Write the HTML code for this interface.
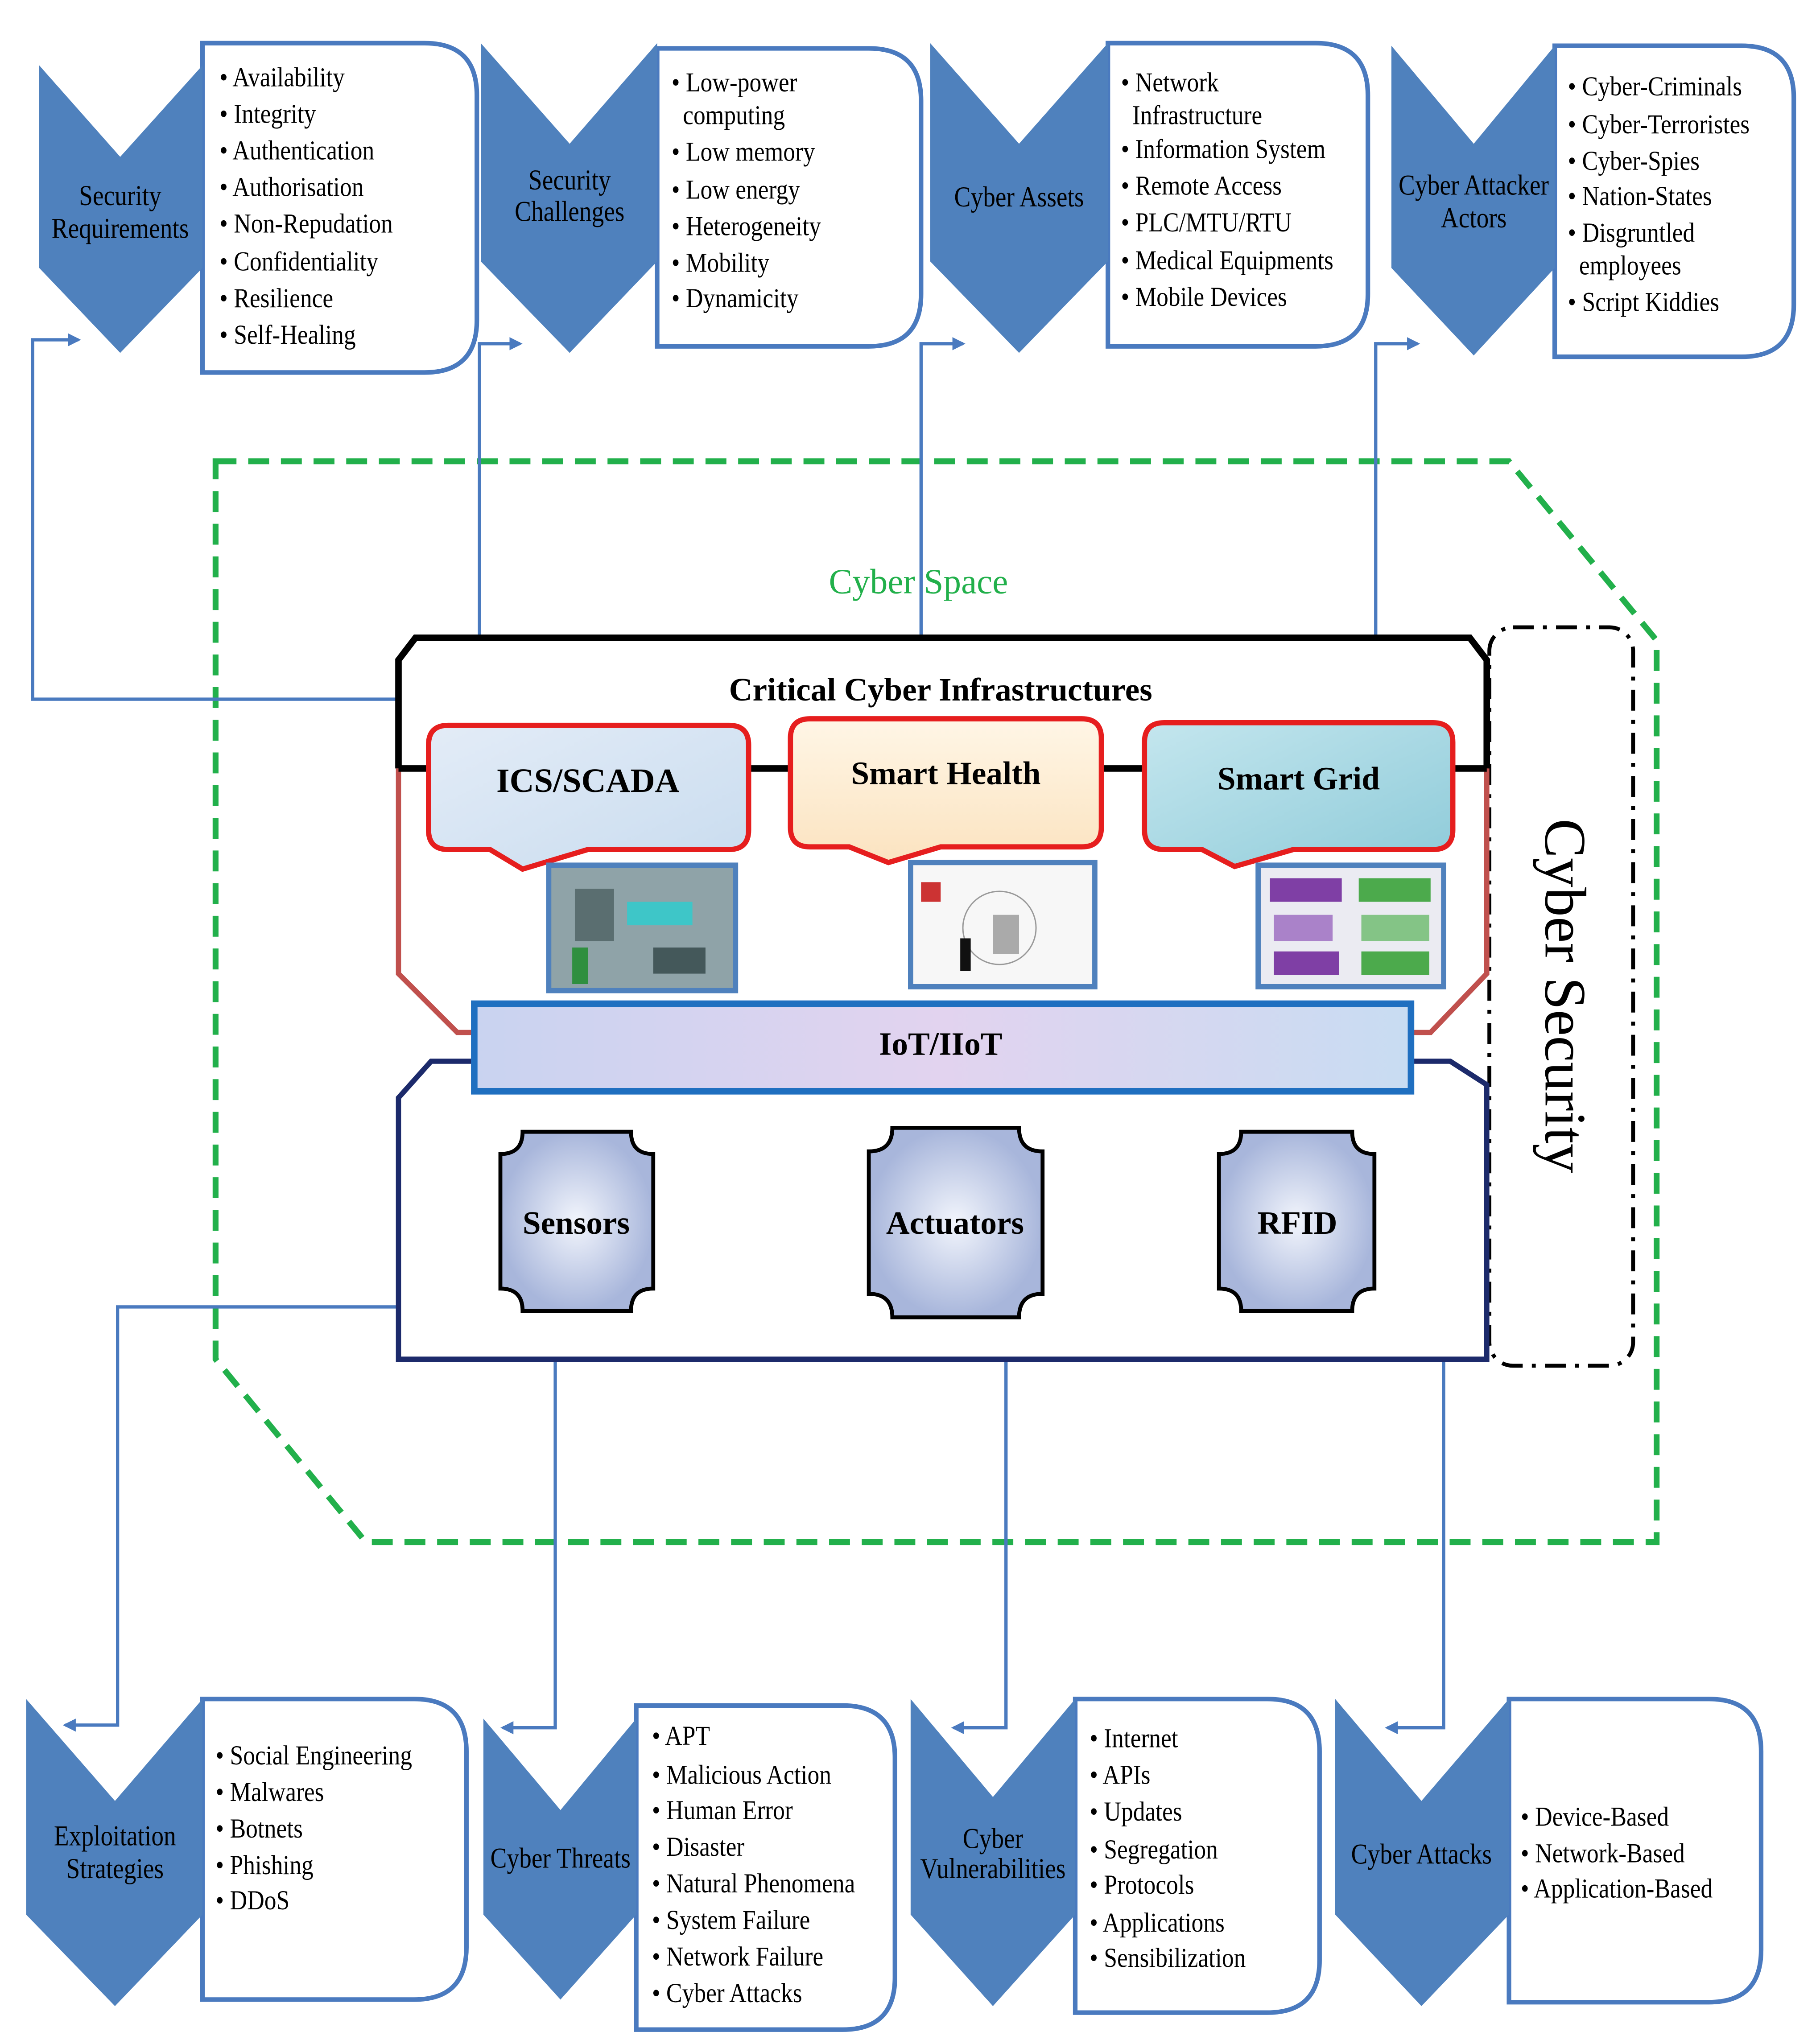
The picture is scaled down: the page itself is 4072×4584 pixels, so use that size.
<!DOCTYPE html>
<html><head><meta charset="utf-8"><style>
html,body{margin:0;padding:0;background:#fff;}
svg{display:block}
text{font-family:"Liberation Serif",serif;}
.b{font-size:21px;fill:#000}
.c{font-size:22px;fill:#000;text-anchor:middle}
.box{fill:#fff;stroke:#4a7abf;stroke-width:3.5}
.chev{fill:#4f81bd}
.con{fill:none;stroke:#4a7abf;stroke-width:2.5}
</style></head><body>
<svg width="4072" height="4584" viewBox="0 0 1390 1564" preserveAspectRatio="none" xmlns="http://www.w3.org/2000/svg">
<defs>
<marker id="ar" markerWidth="10" markerHeight="10" refX="8" refY="5" orient="auto" markerUnits="userSpaceOnUse"><path d="M0,0 L10,5 L0,10 Z" fill="#4a7abf"/></marker>
<linearGradient id="g1" x1="0" y1="0" x2="1" y2="1"><stop offset="0" stop-color="#e3ecf7"/><stop offset="1" stop-color="#c9dcef"/></linearGradient>
<linearGradient id="g2" x1="0" y1="0" x2="0" y2="1"><stop offset="0" stop-color="#fff6e6"/><stop offset="1" stop-color="#fbe3c0"/></linearGradient>
<linearGradient id="g3" x1="0" y1="0" x2="1" y2="1"><stop offset="0" stop-color="#c4e6ee"/><stop offset="1" stop-color="#8ecbd9"/></linearGradient>
<linearGradient id="g4" x1="0" y1="0" x2="1" y2="0"><stop offset="0" stop-color="#c9d3f0"/><stop offset="0.5" stop-color="#e2d3ef"/><stop offset="1" stop-color="#c8dcf2"/></linearGradient>
<radialGradient id="g5"><stop offset="0" stop-color="#f2f5fc"/><stop offset="1" stop-color="#a8b6db"/></radialGradient>
</defs>

<!-- Top row -->
<path class="box" d="M155,33 H325 Q365,33 365,73 V245 Q365,285 325,285 H155 Z"/>
<polygon class="chev" points="30,50 92,120 155,50 155,205 92,270 30,205"/>
<g transform="translate(92,0) scale(0.86,1) translate(-92,0)"><text class="c" x="92" y="157">Security</text><text class="c" x="92" y="182">Requirements</text></g>
<g class="b" transform="translate(168,0) scale(0.87,1) translate(-168,0)"><text x="168" y="66">• Availability</text><text x="168" y="94">• Integrity</text><text x="168" y="122">• Authentication</text><text x="168" y="150">• Authorisation</text><text x="168" y="178">• Non-Repudation</text><text x="168" y="207">• Confidentiality</text><text x="168" y="235">• Resilience</text><text x="168" y="263">• Self-Healing</text></g>

<path class="box" d="M503,37 H665 Q705,37 705,77 V225 Q705,265 665,265 H503 Z"/>
<polygon class="chev" points="368,33 436,110 503,33 503,200 436,270 368,200"/>
<g transform="translate(436,0) scale(0.86,1) translate(-436,0)"><text class="c" x="436" y="145">Security</text><text class="c" x="436" y="169">Challenges</text></g>
<g class="b" transform="translate(514,0) scale(0.87,1) translate(-514,0)"><text x="514" y="70">• Low-power</text><text x="524" y="95">computing</text><text x="514" y="123">• Low memory</text><text x="514" y="152">• Low energy</text><text x="514" y="180">• Heterogeneity</text><text x="514" y="208">• Mobility</text><text x="514" y="235">• Dynamicity</text></g>

<path class="box" d="M848,33 H1007 Q1047,33 1047,73 V225 Q1047,265 1007,265 H848 Z"/>
<polygon class="chev" points="712,33 780,110 848,33 848,200 780,270 712,200"/>
<g transform="translate(780,0) scale(0.86,1) translate(-780,0)"><text class="c" x="780" y="158">Cyber Assets</text></g>
<g class="b" transform="translate(858,0) scale(0.87,1) translate(-858,0)"><text x="858" y="70">• Network</text><text x="868" y="95">Infrastructure</text><text x="858" y="121">• Information System</text><text x="858" y="149">• Remote Access</text><text x="858" y="177">• PLC/MTU/RTU</text><text x="858" y="206">• Medical Equipments</text><text x="858" y="234">• Mobile Devices</text></g>

<path class="box" d="M1190,35 H1333 Q1373,35 1373,75 V233 Q1373,273 1333,273 H1190 Z"/>
<polygon class="chev" points="1065,35 1128,110 1190,35 1190,205 1128,272 1065,205"/>
<g transform="translate(1128,0) scale(0.86,1) translate(-1128,0)"><text class="c" x="1128" y="149">Cyber Attacker</text><text class="c" x="1128" y="174">Actors</text></g>
<g class="b" transform="translate(1200,0) scale(0.87,1) translate(-1200,0)"><text x="1200" y="73">• Cyber-Criminals</text><text x="1200" y="102">• Cyber-Terroristes</text><text x="1200" y="130">• Cyber-Spies</text><text x="1200" y="157">• Nation-States</text><text x="1200" y="185">• Disgruntled</text><text x="1210" y="210">employees</text><text x="1200" y="238">• Script Kiddies</text></g>

<!-- Cyber space -->
<polygon points="165,353 1155,353 1268,490 1268,1180 280,1180 165,1040" fill="none" stroke="#22b04b" stroke-width="4.5" stroke-dasharray="16,9"/>
<text x="703" y="454" text-anchor="middle" style="font-size:27px;fill:#22b04b">Cyber Space</text>

<!-- Cyber Security -->
<rect x="1140" y="480" width="110" height="565" rx="18" fill="none" stroke="#000" stroke-width="3" stroke-dasharray="16,7,3,7"/>
<text transform="translate(1183,762) rotate(90)" text-anchor="middle" style="font-size:45px;fill:#000">Cyber Security</text>

<!-- connectors -->
<polyline class="con" points="305,535 25,535 25,260 60,260" marker-end="url(#ar)"/>
<polyline class="con" points="367,488 367,263 398,263" marker-end="url(#ar)"/>
<polyline class="con" points="705,488 705,263 737,263" marker-end="url(#ar)"/>
<polyline class="con" points="1053,488 1053,263 1085,263" marker-end="url(#ar)"/>
<polyline class="con" points="305,1000 90,1000 90,1320 50,1320" marker-end="url(#ar)"/>
<polyline class="con" points="425,1040 425,1322 385,1322" marker-end="url(#ar)"/>
<polyline class="con" points="770,1040 770,1322 730,1322" marker-end="url(#ar)"/>
<polyline class="con" points="1105,1040 1105,1322 1062,1322" marker-end="url(#ar)"/>

<!-- CCI -->
<polyline points="305,588 305,505 318,488 1125,488 1138,505 1138,588" fill="none" stroke="#000" stroke-width="5"/>
<polyline points="305,588 305,745 350,790 365,790" fill="none" stroke="#c0504d" stroke-width="4"/>
<polyline points="1138,588 1138,745 1095,790 1080,790" fill="none" stroke="#c0504d" stroke-width="4"/>
<line x1="573" y1="588" x2="605" y2="588" stroke="#000" stroke-width="5"/>
<line x1="843" y1="588" x2="876" y2="588" stroke="#000" stroke-width="5"/>
<line x1="305" y1="588" x2="328" y2="588" stroke="#000" stroke-width="5"/>
<line x1="1112" y1="588" x2="1138" y2="588" stroke="#000" stroke-width="5"/>
<text x="720" y="536" text-anchor="middle" style="font-size:25px;font-weight:bold">Critical Cyber Infrastructures</text>

<path d="M343,555 H558 Q573,555 573,570 V635 Q573,650 558,650 H450 L400,665 L375,650 H343 Q328,650 328,635 V570 Q328,555 343,555 Z" fill="url(#g1)" stroke="#e61e1e" stroke-width="4"/>
<text x="450" y="606" text-anchor="middle" style="font-size:26px;font-weight:bold">ICS/SCADA</text>
<path d="M620,550 H828 Q843,550 843,565 V633 Q843,648 828,648 H720 L680,660 L650,648 H620 Q605,648 605,633 V565 Q605,550 620,550 Z" fill="url(#g2)" stroke="#e61e1e" stroke-width="4"/>
<text x="724" y="600" text-anchor="middle" style="font-size:25px;font-weight:bold">Smart Health</text>
<path d="M891,553 H1097 Q1112,553 1112,568 V635 Q1112,650 1097,650 H990 L945,663 L920,650 H891 Q876,650 876,635 V568 Q876,553 891,553 Z" fill="url(#g3)" stroke="#e61e1e" stroke-width="4"/>
<text x="994" y="604" text-anchor="middle" style="font-size:25px;font-weight:bold">Smart Grid</text>

<!-- images -->
<rect x="420" y="662" width="143" height="96" fill="#8fa3a8" stroke="#4f81bd" stroke-width="4"/>
<rect x="440" y="680" width="30" height="40" fill="#5a6e70"/><rect x="480" y="690" width="50" height="18" fill="#3ec6c8"/><rect x="500" y="725" width="40" height="20" fill="#44585a"/><rect x="438" y="725" width="12" height="28" fill="#2f8f3f"/>
<rect x="697" y="660" width="141" height="95" fill="#f7f7f7" stroke="#4f81bd" stroke-width="4"/>
<circle cx="765" cy="710" r="28" fill="none" stroke="#999" stroke-width="1"/><rect x="735" y="718" width="8" height="25" fill="#111"/><rect x="760" y="700" width="20" height="30" fill="#aaa"/><rect x="705" y="675" width="15" height="15" fill="#c33"/>
<rect x="963" y="662" width="142" height="93" fill="#ebebf2" stroke="#4f81bd" stroke-width="4"/>
<rect x="972" y="672" width="55" height="18" fill="#7f3fa5"/><rect x="1040" y="672" width="55" height="18" fill="#4caa4c"/><rect x="975" y="700" width="45" height="20" fill="#8f56b8" opacity="0.7"/><rect x="1042" y="700" width="52" height="20" fill="#58b358" opacity="0.7"/><rect x="975" y="728" width="50" height="18" fill="#7f3fa5"/><rect x="1042" y="728" width="52" height="18" fill="#4caa4c"/>

<!-- lower box -->
<polyline points="362,812 330,812 305,840 305,1040 1138,1040 1138,830 1110,812 1080,812" fill="none" stroke="#1c2a6b" stroke-width="4"/>
<rect x="363" y="768" width="717" height="67" fill="url(#g4)" stroke="#1f6fc0" stroke-width="5"/>
<text x="720" y="807" text-anchor="middle" style="font-size:25px;font-weight:bold">IoT/IIoT</text>

<path d="M400,866 H483 Q483,883 500,883 V986 Q483,986 483,1003 H400 Q400,986 383,986 V883 Q400,883 400,866 Z" fill="url(#g5)" stroke="#000" stroke-width="3"/>
<text x="441" y="944" text-anchor="middle" style="font-size:25px;font-weight:bold">Sensors</text>
<path d="M683,863 H780 Q780,881 798,881 V990 Q780,990 780,1008 H683 Q683,990 665,990 V881 Q683,881 683,863 Z" fill="url(#g5)" stroke="#000" stroke-width="3"/>
<text x="731" y="944" text-anchor="middle" style="font-size:25px;font-weight:bold">Actuators</text>
<path d="M950,866 H1035 Q1035,883 1052,883 V986 Q1035,986 1035,1003 H950 Q950,986 933,986 V883 Q950,883 950,866 Z" fill="url(#g5)" stroke="#000" stroke-width="3"/>
<text x="993" y="944" text-anchor="middle" style="font-size:25px;font-weight:bold">RFID</text>

<!-- Bottom row -->
<path class="box" d="M155,1300 H317 Q357,1300 357,1340 V1490 Q357,1530 317,1530 H155 Z"/>
<polygon class="chev" points="20,1300 88,1378 155,1300 155,1465 88,1535 20,1465"/>
<g transform="translate(88,0) scale(0.86,1) translate(-88,0)"><text class="c" x="88" y="1412">Exploitation</text><text class="c" x="88" y="1437">Strategies</text></g>
<g class="b" transform="translate(165,0) scale(0.87,1) translate(-165,0)"><text x="165" y="1350">• Social Engineering</text><text x="165" y="1378">• Malwares</text><text x="165" y="1406">• Botnets</text><text x="165" y="1434">• Phishing</text><text x="165" y="1461">• DDoS</text></g>

<path class="box" d="M487,1305 H645 Q685,1305 685,1345 V1513 Q685,1553 645,1553 H487 Z"/>
<polygon class="chev" points="370,1315 429,1385 487,1315 487,1465 429,1530 370,1465"/>
<g transform="translate(429,0) scale(0.86,1) translate(-429,0)"><text class="c" x="429" y="1429">Cyber Threats</text></g>
<g class="b" transform="translate(499,0) scale(0.87,1) translate(-499,0)"><text x="499" y="1335">• APT</text><text x="499" y="1365">• Malicious Action</text><text x="499" y="1392">• Human Error</text><text x="499" y="1420">• Disaster</text><text x="499" y="1448">• Natural Phenomena</text><text x="499" y="1476">• System Failure</text><text x="499" y="1504">• Network Failure</text><text x="499" y="1532">• Cyber Attacks</text></g>

<path class="box" d="M823,1300 H970 Q1010,1300 1010,1340 V1500 Q1010,1540 970,1540 H823 Z"/>
<polygon class="chev" points="697,1300 760,1375 823,1300 823,1465 760,1535 697,1465"/>
<g transform="translate(760,0) scale(0.86,1) translate(-760,0)"><text class="c" x="760" y="1414">Cyber</text><text class="c" x="760" y="1437">Vulnerabilities</text></g>
<g class="b" transform="translate(834,0) scale(0.87,1) translate(-834,0)"><text x="834" y="1337">• Internet</text><text x="834" y="1365">• APIs</text><text x="834" y="1393">• Updates</text><text x="834" y="1422">• Segregation</text><text x="834" y="1449">• Protocols</text><text x="834" y="1478">• Applications</text><text x="834" y="1505">• Sensibilization</text></g>

<path class="box" d="M1155,1300 H1308 Q1348,1300 1348,1340 V1492 Q1348,1532 1308,1532 H1155 Z"/>
<polygon class="chev" points="1022,1300 1088,1378 1155,1300 1155,1465 1088,1535 1022,1465"/>
<g transform="translate(1088,0) scale(0.86,1) translate(-1088,0)"><text class="c" x="1088" y="1426">Cyber Attacks</text></g>
<g class="b" transform="translate(1164,0) scale(0.87,1) translate(-1164,0)"><text x="1164" y="1397">• Device-Based</text><text x="1164" y="1425">• Network-Based</text><text x="1164" y="1452">• Application-Based</text></g>
</svg>
</body></html>
